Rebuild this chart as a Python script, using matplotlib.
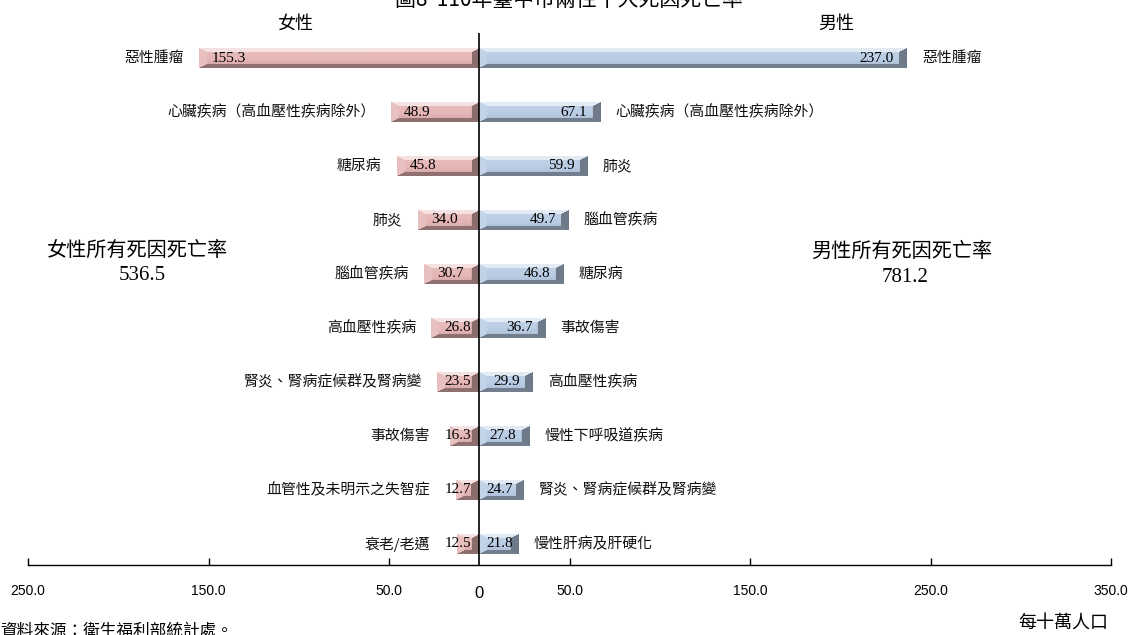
import numpy as np
import matplotlib
matplotlib.use("Agg")
import matplotlib.pyplot as plt
from matplotlib import colors as mcolors

# 110年臺中市兩性十大死因死亡率（每十萬人口）
female_causes = ["惡性腫瘤", "心臟疾病（高血壓性疾病除外）", "糖尿病", "肺炎", "腦血管疾病",
                 "高血壓性疾病", "腎炎、腎病症候群及腎病變", "事故傷害",
                 "血管性及未明示之失智症", "衰老/老邁"]
female_rates = [155.3, 48.9, 45.8, 34.0, 30.7, 26.8, 23.5, 16.3, 12.7, 12.5]

male_causes = ["惡性腫瘤", "心臟疾病（高血壓性疾病除外）", "肺炎", "腦血管疾病", "糖尿病",
               "事故傷害", "高血壓性疾病", "慢性下呼吸道疾病", "腎炎、腎病症候群及腎病變",
               "慢性肝病及肝硬化"]
male_rates = [237.0, 67.1, 59.9, 49.7, 46.8, 36.7, 29.9, 27.8, 24.7, 21.8]

female_total = 536.5
male_total = 781.2
tick_values = [-250, -150, -50, 50, 150, 250, 350]

CJK = ["Noto Sans CJK TC", "DejaVu Sans"]
NUM = ["Liberation Serif", "DejaVu Serif"]
TICK = ["Liberation Sans Narrow", "Liberation Sans", "DejaVu Sans"]

FEMALE_COLOR = "#E6B5B5"
MALE_COLOR = "#B8CCE4"

W, H, DPI = 1130, 635, 100
fig = plt.figure(figsize=(W / DPI, H / DPI), dpi=DPI)
ax = fig.add_axes([28 / W, 1 - 565 / H, (1111 - 28) / W, (565 - 33) / H])

n = len(female_rates)
XLIM = (-250, 350)
YLIM = (n - 1 + 0.389, -0.463)
ax.set_xlim(*XLIM)
ax.set_ylim(*YLIM)
ax.set_autoscale_on(False)

for s in ("top", "left", "right"):
    ax.spines[s].set_visible(False)
ax.spines["bottom"].set_color("black")
ax.spines["bottom"].set_linewidth(1.0)
ax.set_yticks([])
ax.set_xticks(tick_values)
ax.set_xticklabels([f"{abs(v):.1f}" for v in tick_values], fontfamily=TICK)
ax.tick_params(axis="x", direction="in", length=5, width=1, pad=14,
               labelsize=10, colors="black")
ax.axvline(0, color="black", lw=1.2, zorder=5)

BAR_H = 0.37


def bevel(base, wpx, hpx, side_px=8.0, edge_px=4.0):
    """Bevelled bar fill: light from the top-left, shaded to the bottom-right."""
    w = max(int(round(wpx)), 2)
    h = max(int(round(hpx)), 2)
    yy, xx = np.mgrid[0:h, 0:w] + 0.5
    d = np.stack([yy / edge_px, (h - yy) / edge_px, xx / side_px, (w - xx) / side_px])
    facet = d.argmin(0)
    dmin = d.min(0)
    rgb = np.array(mcolors.to_rgb(base))
    t = yy / h
    shade = 0.15 - 0.25 * t
    facet_shade = np.array([0.6, -0.38, 0.15, -0.40])
    shade = np.where(dmin < 1, facet_shade[facet], shade)
    s = shade[..., None]
    out = np.where(s >= 0, rgb + (1 - rgb) * s, rgb * (1 + s))
    return np.clip(out, 0, 1)


px_per_x = ax.transData.transform((1, 0))[0] - ax.transData.transform((0, 0))[0]
px_per_y = abs(ax.transData.transform((0, 1))[1] - ax.transData.transform((0, 0))[1])

fb = ax.barh(range(n), [-v for v in female_rates], height=BAR_H, color=FEMALE_COLOR, zorder=2)
mb = ax.barh(range(n), male_rates, height=BAR_H, color=MALE_COLOR, zorder=2)

for i in range(n):
    fv, mv = female_rates[i], male_rates[i]
    ax.imshow(bevel(FEMALE_COLOR, fv * px_per_x, BAR_H * px_per_y),
              extent=(-fv, 0, i + BAR_H / 2, i - BAR_H / 2),
              aspect="auto", interpolation="bilinear", zorder=3)
    ax.imshow(bevel(MALE_COLOR, mv * px_per_x, BAR_H * px_per_y),
              extent=(0, mv, i + BAR_H / 2, i - BAR_H / 2),
              aspect="auto", interpolation="bilinear", zorder=3)

ax.set_xlim(*XLIM)
ax.set_ylim(*YLIM)

fig.canvas.draw()
renderer = fig.canvas.get_renderer()
xc = ax.transData.transform((0, 0))[0]

for i in range(n):
    fv, mv = female_rates[i], male_rates[i]
    # female value label
    t = ax.annotate(f"{fv:.1f}", xy=(-fv, i), xytext=(13, 0), textcoords="offset pixels",
                    ha="left", va="center", fontsize=11, fontfamily=NUM, zorder=6)
    wpx = t.get_window_extent(renderer).width
    x_end = ax.transData.transform((-fv, i))[0]
    if x_end + 13 + wpx > xc - 8:
        t.remove()
        t = ax.annotate(f"{fv:.1f}", xy=(0, i), xytext=(-8, 0), textcoords="offset pixels",
                        ha="right", va="center", fontsize=11, fontfamily=NUM, zorder=6)
        left = xc - 8 - wpx
    else:
        left = x_end + 13
    ax.annotate(female_causes[i], xy=(0, i), xytext=(min(x_end, left) - 15 - xc, 0),
                textcoords="offset pixels", ha="right", va="center",
                fontsize=10.7, fontfamily=CJK, color="#111111")

    # male value label
    t = ax.annotate(f"{mv:.1f}", xy=(mv, i), xytext=(-13, 0), textcoords="offset pixels",
                    ha="right", va="center", fontsize=11, fontfamily=NUM, zorder=6)
    wpx = t.get_window_extent(renderer).width
    x_end = ax.transData.transform((mv, i))[0]
    if x_end - 13 - wpx < xc + 7:
        t.remove()
        ax.annotate(f"{mv:.1f}", xy=(0, i), xytext=(7, 0), textcoords="offset pixels",
                    ha="left", va="center", fontsize=11, fontfamily=NUM, zorder=6)
    ax.annotate(male_causes[i], xy=(mv, i), xytext=(15, 0), textcoords="offset pixels",
                ha="left", va="center", fontsize=10.7, fontfamily=CJK, color="#111111")


def fig_text(x, y, s, **kw):
    fig.text(x / W, 1 - y / H, s, **kw)


fig_text(569, 6, "圖8  110年臺中市兩性十大死因死亡率", ha="center", va="baseline",
         fontsize=15, fontfamily=CJK)
fig_text(296, 24, "女性", ha="center", va="center", fontsize=13, fontfamily=CJK)
fig_text(836, 24, "男性", ha="center", va="center", fontsize=13, fontfamily=CJK)
fig_text(137, 250, "女性所有死因死亡率", ha="center", va="center", fontsize=14.5, fontfamily=CJK)
fig_text(142, 276, f"{female_total:.1f}", ha="center", va="center", fontsize=15, fontfamily=NUM)
fig_text(902, 251, "男性所有死因死亡率", ha="center", va="center", fontsize=14.5, fontfamily=CJK)
fig_text(905, 277, f"{male_total:.1f}", ha="center", va="center", fontsize=15, fontfamily=NUM)
fig_text(479, 594, "0", ha="center", va="center", fontsize=12, fontfamily=TICK)
fig_text(0, 631, "資料來源：衛生福利部統計處。", ha="left", va="center", fontsize=12, fontfamily=CJK)
fig_text(1063, 623, "每十萬人口", ha="center", va="center", fontsize=13, fontfamily=CJK)

fig.savefig("out.png", dpi=DPI, facecolor="white")
